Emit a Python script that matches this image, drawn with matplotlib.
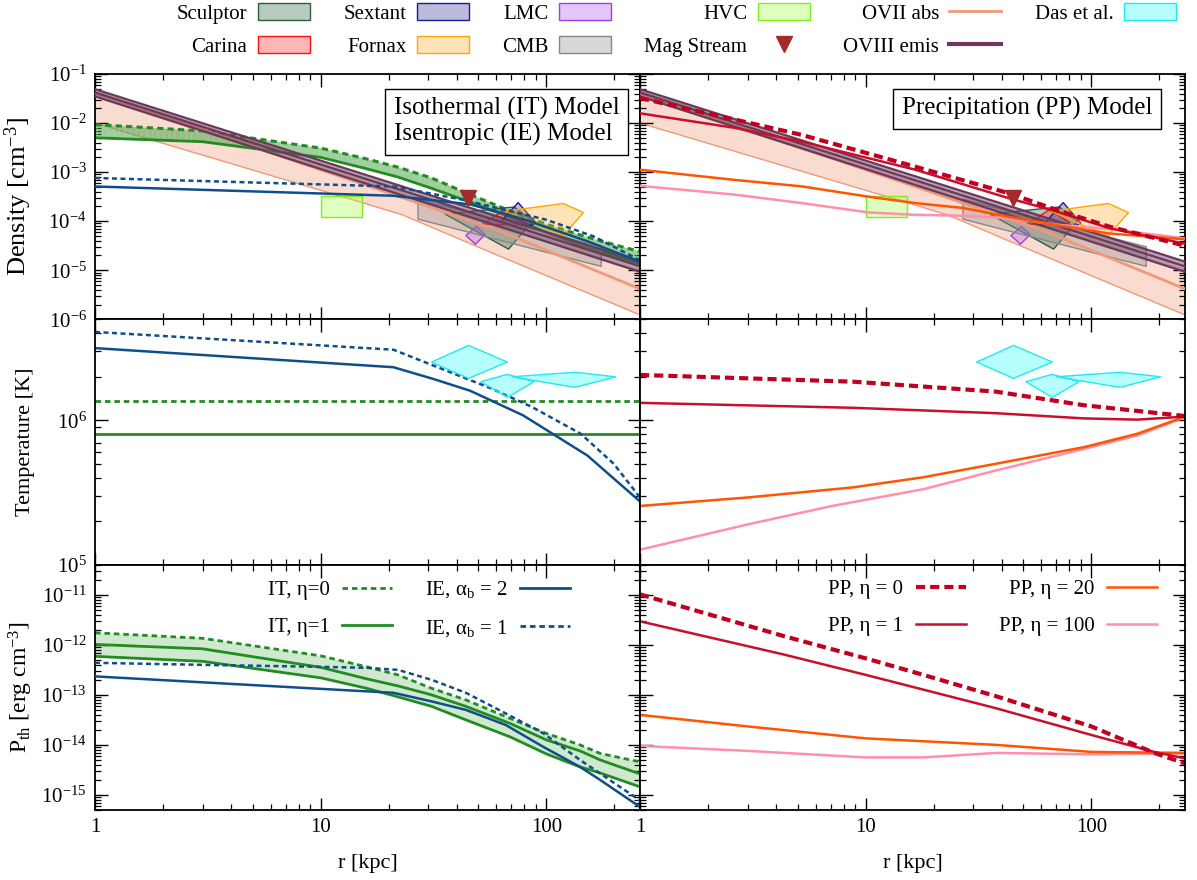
import matplotlib.pyplot as plt
import matplotlib.colors as mcolors
from matplotlib.lines import Line2D
from matplotlib.patches import Patch

plt.rcParams['font.family'] = ['Liberation Serif', 'DejaVu Serif']
plt.rcParams['mathtext.fontset'] = 'custom'
plt.rcParams['mathtext.rm'] = 'Liberation Serif'
plt.rcParams['mathtext.it'] = 'Liberation Serif:italic'
plt.rcParams['mathtext.default'] = 'regular'
plt.rcParams['hatch.linewidth'] = 0.7

# ---------------- data (r in kpc) ----------------
# isothermal model, density
r_it = [1, 3, 10, 16, 22, 31, 44, 69, 100, 141, 173, 260]
n_it0 = [9.33e-3, 6.92e-3, 3.09e-3, 1.86e-3, 1.26e-3, 7.59e-4, 3.80e-4, 1.62e-4, 8.71e-5, 5.25e-5, 3.98e-5, 2.40e-5]
n_it1 = [5.01e-3, 4.17e-3, 2.00e-3, 1.17e-3, 7.94e-4, 4.68e-4, 2.63e-4, 1.23e-4, 5.89e-5, 3.24e-5, 2.40e-5, 1.35e-5]
# isothermal model, pressure
p_it0 = [1.74e-12, 1.35e-12, 6.03e-13, 3.63e-13, 2.51e-13, 1.35e-13, 7.94e-14, 3.39e-14, 1.70e-14, 1.00e-14, 6.76e-15, 4.57e-15]
p_itm = [1.02e-12, 8.32e-13, 3.55e-13, 2.09e-13, 1.51e-13, 1.00e-13, 5.89e-14, 2.69e-14, 1.26e-14, 7.59e-15, 5.01e-15, 2.63e-15]
p_it1 = [5.89e-13, 4.68e-13, 2.19e-13, 1.35e-13, 9.12e-14, 5.89e-14, 3.16e-14, 1.45e-14, 6.61e-15, 3.63e-15, 2.75e-15, 1.45e-15]
t_it0 = 1.36e6
t_it1 = 7.98e5

# isentropic model
r_ie1_n = [1, 21, 42.5, 100, 162, 260]
n_ie1 = [7.6e-4, 5.1e-4, 2.75e-4, 1.07e-4, 4.9e-5, 1.6e-5]
r_ie2_n = [1, 21, 46, 79, 152, 260]
n_ie2 = [5.1e-4, 3.3e-4, 2.2e-4, 1.1e-4, 3.9e-5, 1.5e-5]
r_ie1_t = [1, 21, 37, 57, 86, 142, 199, 260]
t_ie1 = [4.09e6, 3.08e6, 2.17e6, 1.66e6, 1.24e6, 8.07e5, 4.99e5, 2.92e5]
r_ie2_t = [1, 21, 32, 46, 79, 152, 260]
t_ie2 = [3.16e6, 2.33e6, 1.92e6, 1.60e6, 1.08e6, 5.70e5, 2.74e5]
r_ie1_p = [1, 3, 10, 16, 22, 31, 44, 66, 97, 141, 173, 260]
p_ie1 = [4.37e-13, 3.98e-13, 3.63e-13, 3.47e-13, 3.16e-13, 2.00e-13, 1.10e-13, 4.27e-14, 1.70e-14, 5.01e-15, 2.69e-15, 7.76e-16]
r_ie2_p = [1, 3, 10, 21, 31, 44, 66, 97, 141, 173, 260]
p_ie2 = [2.34e-13, 1.78e-13, 1.32e-13, 1.10e-13, 7.41e-14, 5.01e-14, 2.51e-14, 9.12e-15, 3.63e-15, 2.00e-15, 5.75e-16]

# precipitation model
r_pp_n = [1, 2.65, 5.2, 16.6, 43, 70, 120, 260]
n_pp0 = [3.24e-2, 1.17e-2, 5.75e-3, 1.29e-3, 3.72e-4, 1.70e-4, 7.76e-5, 3.16e-5]
n_pp1 = [1.58e-2, 7.94e-3, 4.17e-3, 1.12e-3, 2.95e-4, 1.58e-4, 7.24e-5, 3.47e-5]
r_pp_n2 = [1, 2.65, 5.2, 10.3, 16.6, 27, 43, 70, 120, 260]
n_pp20 = [1.12e-3, 6.92e-4, 5.13e-4, 3.16e-4, 2.34e-4, 1.86e-4, 1.23e-4, 8.32e-5, 5.62e-5, 4.27e-5]
n_pp100 = [5.25e-4, 3.47e-4, 2.34e-4, 1.51e-4, 1.35e-4, 1.29e-4, 1.15e-4, 8.51e-5, 6.92e-5, 4.47e-5]
r_pp0_t = [1, 8.8, 37.6, 93, 260]
t_pp0 = [2.06e6, 1.85e6, 1.58e6, 1.27e6, 1.07e6]
r_pp1_t = [1, 8.8, 37.6, 93, 160, 260]
t_pp1 = [1.32e6, 1.22e6, 1.12e6, 1.03e6, 1.01e6, 1.06e6]
r_pp20_t = [1, 3, 8.8, 18, 37.6, 93, 160, 260]
t_pp20 = [2.55e5, 2.92e5, 3.43e5, 4.03e5, 4.99e5, 6.52e5, 8.07e5, 1.06e6]
r_pp100_t = [1, 3, 7.1, 18, 37.6, 93, 160, 260]
t_pp100 = [1.27e5, 1.90e5, 2.55e5, 3.33e5, 4.48e5, 6.34e5, 7.85e5, 1.05e6]
r_pp0_p = [1, 4.3, 10, 18, 38, 100, 190, 260]
p_pp0 = [1.02e-11, 1.51e-12, 5.37e-13, 2.51e-13, 9.33e-14, 2.34e-14, 6.92e-15, 4.27e-15]
r_pp1_p = [1, 4.3, 10, 38, 100, 190, 260]
p_pp1 = [2.95e-12, 6.46e-13, 2.51e-13, 5.37e-14, 1.58e-14, 7.24e-15, 5.37e-15]
r_pp20_p = [1, 3, 10, 38, 100, 260]
p_pp20 = [3.98e-14, 2.34e-14, 1.35e-14, 1.00e-14, 7.24e-15, 6.92e-15]
r_pp100_p = [1, 3, 10, 18, 38, 100, 260]
p_pp100 = [9.55e-15, 7.59e-15, 5.62e-15, 5.62e-15, 6.92e-15, 6.46e-15, 6.76e-15]

# observational constraints
r_ovii = [1, 16, 23, 62, 260]
n_ovii_hi = [4.68e-2, 7.08e-4, 3.98e-4, 9.12e-5, 1.07e-5]
n_ovii = [4.07e-2, 5.37e-4, 3.02e-4, 6.31e-5, 4.17e-6]
n_ovii_lo = [1.0e-2, 2.24e-4, 1.35e-4, 1.95e-5, 1.23e-6]
r_oviii = [1, 260]
n_oviii_hi = [4.9e-2, 1.5e-5]
n_oviii = [4.2e-2, 1.2e-5]
n_oviii_lo = [3.5e-2, 9.3e-6]

sculptor_r = [35.5, 72, 87, 68]
sculptor_n = [1.4e-4, 1.95e-4, 1.0e-4, 2.7e-5]
carina_r = [52, 65, 80, 78]
carina_n = [8.7e-5, 1.7e-4, 9.5e-5, 8.3e-5]
sextant_r = [75, 90, 83, 63]
sextant_n = [2.4e-4, 9.1e-5, 7.8e-5, 9.8e-5]
fornax_r = [66, 119, 146, 119, 87]
fornax_n = [1.6e-4, 2.3e-4, 1.5e-4, 5.1e-5, 9.1e-5]
lmc_r = [44, 49, 53.5, 48.5]
lmc_n = [5.1e-5, 7.8e-5, 5.3e-5, 3.4e-5]
hvc_r = [10, 15.3, 15.3, 10]
hvc_n = [1.24e-4, 1.24e-4, 3.2e-4, 3.2e-4]
cmb_r = [27, 27, 175, 175]
cmb_n = [2.8e-4, 1.1e-4, 1.2e-5, 3.0e-5]
magstream_r = [45]
magstream_n = [2.95e-4]

das_r = [[31, 45.2, 67.2, 45.2], [51.2, 67.2, 88.2, 67.2], [70, 134, 203, 134]]
das_t = [[2.53e6, 3.30e6, 2.53e6, 1.95e6], [1.85e6, 2.08e6, 1.85e6, 1.44e6], [2.0e6, 2.15e6, 2.0e6, 1.69e6]]

# ---------------- colours ----------------
c_green = '#228b22'
c_blue = '#104e8b'
c_pp0 = '#c00020'
c_pp1 = '#c8102e'
c_pp20 = '#ff5500'
c_pp100 = '#ff8fab'
c_ovii = '#ee9a7a'
c_oviii = '#6b3a5b'
c_das = ('#33ffff', '#22e8f0')

sat_styles = {
    'Sculptor': ('#2e6b47', '#2e5e3e', sculptor_r, sculptor_n),
    'Carina': ('#ff3030', '#ff1010', carina_r, carina_n),
    'Sextant': ('#3b3b99', '#1a1a9c', sextant_r, sextant_n),
    'Fornax': ('#ffb030', '#ffa500', fornax_r, fornax_n),
    'LMC': ('#b060f0', '#a040e0', lmc_r, lmc_n),
    'CMB': ('#909090', '#888888', cmb_r, cmb_n),
    'HVC': ('#a6ff4d', '#80ee20', hvc_r, hvc_n),
}

fig = plt.figure(figsize=(11.97, 8.8), dpi=100)
gs = fig.add_gridspec(3, 2, left=95/1197, right=1185/1197, top=1-74/880,
                      bottom=1-810/880, hspace=0, wspace=0)
axs = [[fig.add_subplot(gs[i, j]) for j in range(2)] for i in range(3)]

dot = (0, (2, 1.4))
dash = (0, (2.2, 1.2))

for i in range(3):
    for j in range(2):
        ax = axs[i][j]
        ax.set_xscale('log')
        ax.set_yscale('log')
        ax.set_xlim(1, 260)
        ax.tick_params(which='both', direction='in', top=True, right=True,
                       labelsize=15, pad=6)
        ax.tick_params(which='major', length=9, width=1)
        ax.tick_params(which='minor', length=4.5, width=0.9)
        for s in ax.spines.values():
            s.set_linewidth(1.3)
        if j == 1:
            ax.tick_params(labelleft=False)
        if i < 2:
            ax.tick_params(labelbottom=False)

# ---------------- density panels ----------------
for j in range(2):
    ax = axs[0][j]
    ax.set_ylim(1e-6, 1e-1)
    ax.fill_between(r_ovii, n_ovii_lo, n_ovii_hi, facecolor=c_ovii, alpha=0.35,
                    edgecolor='none', zorder=1)
    ax.plot(r_ovii, n_ovii_lo, color=c_ovii, lw=1.0, zorder=1.5)
    ax.plot(r_ovii, n_ovii, color=c_ovii, lw=2.0, zorder=4)
    for name, (fc, ec, rr, nn) in sat_styles.items():
        ax.fill(rr, nn, facecolor=fc, alpha=0.35, edgecolor='none', zorder=3)
        ax.fill(rr, nn, facecolor='none', edgecolor=ec, lw=1.0, zorder=3)
    ax.fill_between(r_oviii, n_oviii_lo, n_oviii_hi, color=c_oviii, alpha=0.45,
                    lw=0, zorder=4)
    for nn in (n_oviii_hi, n_oviii, n_oviii_lo):
        ax.plot(r_oviii, nn, color=c_oviii, lw=1.6, zorder=4)
    ax.plot(magstream_r, magstream_n, 'v', color='#a52a2a', ms=12, zorder=6)

ax = axs[0][0]
ax.fill_between(r_it, n_it1, n_it0, facecolor='#3f9f3f', alpha=0.5,
                edgecolor='#a8dca8', hatch='|||', lw=0, zorder=2)
ax.plot(r_it, n_it0, color=c_green, lw=2.2, ls=dot, zorder=2.5)
ax.plot(r_it, n_it1, color=c_green, lw=2.0, zorder=2.5)
ax.plot(r_ie1_n, n_ie1, color=c_blue, lw=1.8, ls=dot, zorder=5)
ax.plot(r_ie2_n, n_ie2, color=c_blue, lw=1.8, zorder=5)
ax.set_ylabel('Density [cm$^{-3}$]', fontsize=19)
ax.yaxis.set_label_coords(-0.112, 0.5)
ax.text(0.962, 0.905, 'Isothermal (IT) Model\nIsentropic (IE) Model',
        transform=ax.transAxes, ha='right', va='top', multialignment='left',
        fontsize=18, zorder=10, linespacing=1.15,
        bbox=dict(boxstyle='square,pad=0.35', fc='white', ec='black', lw=1))

ax = axs[0][1]
ax.plot(r_pp_n2, n_pp100, color=c_pp100, lw=1.8, zorder=5)
ax.plot(r_pp_n2, n_pp20, color=c_pp20, lw=1.8, zorder=5)
ax.plot(r_pp_n, n_pp1, color=c_pp1, lw=1.8, zorder=5)
ax.plot(r_pp_n, n_pp0, color=c_pp0, lw=3.0, ls=dash, zorder=5)
ax.text(0.94, 0.905, 'Precipitation (PP) Model',
        transform=ax.transAxes, ha='right', va='top', fontsize=18, zorder=10,
        bbox=dict(boxstyle='square,pad=0.35', fc='white', ec='black', lw=1))

# ---------------- temperature panels ----------------
for j in range(2):
    ax = axs[1][j]
    ax.set_ylim(1e5, 5e6)
    for rr, tt in zip(das_r, das_t):
        ax.fill(rr, tt, facecolor=c_das[0], alpha=0.35, edgecolor='none', zorder=3)
        ax.fill(rr, tt, facecolor='none', edgecolor=c_das[1], lw=1.0, zorder=3)

ax = axs[1][0]
ax.plot([1, 260], [t_it0, t_it0], color=c_green, lw=2.0, ls=dot)
ax.plot([1, 260], [t_it1, t_it1], color=c_green, lw=2.0)
ax.plot(r_ie1_t, t_ie1, color=c_blue, lw=1.8, ls=dot)
ax.plot(r_ie2_t, t_ie2, color=c_blue, lw=1.8)
ax.set_ylabel('Temperature [K]', fontsize=16)
ax.yaxis.set_label_coords(-0.11, 0.5)

ax = axs[1][1]
ax.plot(r_pp100_t, t_pp100, color=c_pp100, lw=1.8)
ax.plot(r_pp20_t, t_pp20, color=c_pp20, lw=1.8)
ax.plot(r_pp1_t, t_pp1, color=c_pp1, lw=1.8)
ax.plot(r_pp0_t, t_pp0, color=c_pp0, lw=3.0, ls=dash)

# ---------------- pressure panels ----------------
for j in range(2):
    ax = axs[2][j]
    ax.set_ylim(5e-16, 4e-11)
    ax.set_xlabel('r [kpc]', fontsize=16, labelpad=12)
    ax.xaxis.set_major_formatter(plt.FuncFormatter(lambda v, p: '%g' % v))

ax = axs[2][0]
ax.fill_between(r_it, p_it1, p_it0, facecolor='#a9d8a9', alpha=0.55,
                edgecolor='#cfeccf', hatch='|||', lw=0, zorder=1)
ax.plot(r_it, p_it0, color=c_green, lw=2.0, ls=dot, zorder=2)
ax.plot(r_it, p_itm, color=c_green, lw=2.0, zorder=2)
ax.plot(r_it, p_it1, color=c_green, lw=2.0, zorder=2)
ax.plot(r_ie1_p, p_ie1, color=c_blue, lw=1.8, ls=dot, zorder=3)
ax.plot(r_ie2_p, p_ie2, color=c_blue, lw=1.8, zorder=3)
ax.set_ylabel('P$_{th}$ [erg cm$^{-3}$]', fontsize=17)
ax.yaxis.set_label_coords(-0.11, 0.5)
h_left = [Line2D([], [], color=c_green, lw=2.0, ls=dot, label='IT, η=0'),
          Line2D([], [], color=c_green, lw=2.0, label='IT, η=1'),
          Line2D([], [], color=c_blue, lw=2.0, label=r'IE, $\alpha_b$ = 2'),
          Line2D([], [], color=c_blue, lw=2.0, ls=dot, label=r'IE, $\alpha_b$ = 1')]
ax.legend(handles=h_left, ncol=2, loc='upper right', bbox_to_anchor=(0.872, 0.94),
          frameon=False, markerfirst=False, fontsize=15, handlelength=2.4,
          handletextpad=0.6, columnspacing=1.6, labelspacing=0.85,
          borderpad=0, borderaxespad=0)

ax = axs[2][1]
ax.plot(r_pp100_p, p_pp100, color=c_pp100, lw=1.8)
ax.plot(r_pp20_p, p_pp20, color=c_pp20, lw=1.8)
ax.plot(r_pp1_p, p_pp1, color=c_pp1, lw=1.8)
ax.plot(r_pp0_p, p_pp0, color=c_pp0, lw=3.0, ls=dash)
h_right = [Line2D([], [], color=c_pp0, lw=3.0, ls=dash, label='PP, η = 0'),
           Line2D([], [], color=c_pp1, lw=1.8, label='PP, η = 1'),
           Line2D([], [], color=c_pp20, lw=1.8, label='PP, η = 20'),
           Line2D([], [], color=c_pp100, lw=1.8, label='PP, η = 100')]
ax.legend(handles=h_right, ncol=2, loc='upper right', bbox_to_anchor=(0.949, 0.94),
          frameon=False, markerfirst=False, fontsize=15, handlelength=2.4,
          handletextpad=0.6, columnspacing=1.6, labelspacing=0.85,
          borderpad=0, borderaxespad=0)

# ---------------- top legend ----------------
def patch(name, fc, ec, a=0.35):
    return Patch(facecolor=mcolors.to_rgba(fc, a), edgecolor=ec, lw=1.0, label=name)

top_handles = [patch(k, *sat_styles[k][:2]) for k in ('Sculptor', 'Carina', 'Sextant',
                                                      'Fornax', 'LMC', 'CMB', 'HVC')]
top_handles += [
    Line2D([], [], ls='none', marker='v', color='#a52a2a', ms=12, label='Mag Stream'),
    Line2D([], [], color=c_ovii, lw=2.0, label='OVII abs'),
    Line2D([], [], color=c_oviii, lw=3.0, label='OVIII emis'),
    patch('Das et al.', *c_das),
]
fig.legend(handles=top_handles, ncol=6, loc='upper right',
           bbox_to_anchor=(1176/1197, 1 - 3/880), frameon=False, markerfirst=False,
           fontsize=15, handlelength=2.5, handleheight=0.85, handletextpad=0.5,
           columnspacing=1.6, labelspacing=0.6, borderpad=0, borderaxespad=0)

fig.savefig('out.png', dpi=100)
